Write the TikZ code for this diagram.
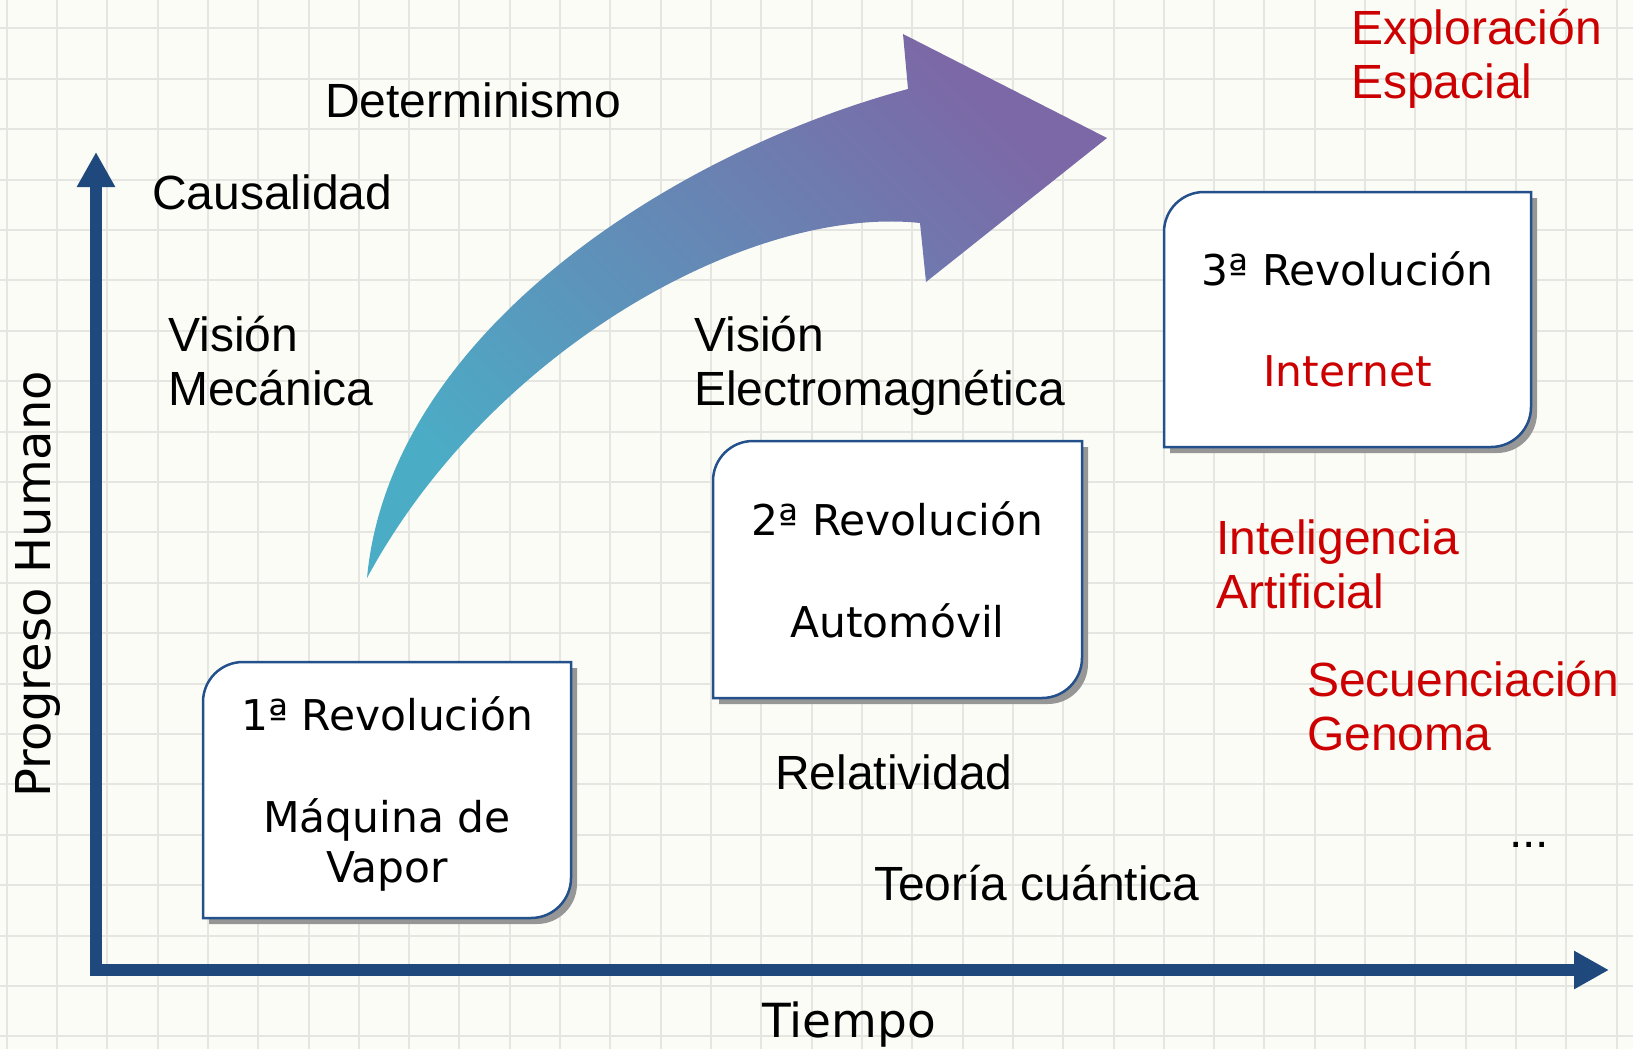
\documentclass[tikz,border=0pt]{standalone}
\usepackage{fontspec}
\newfontfamily\lib{Liberation Sans}
\newfontfamily\dvs{DejaVu Sans}
\usetikzlibrary{arrows.meta}
\definecolor{bgc}{RGB}{252,252,247}
\definecolor{gridc}{RGB}{229,229,225}
\definecolor{axisblue}{RGB}{31,73,125}
\definecolor{boxblue}{RGB}{36,80,140}
\definecolor{shadowc}{RGB}{150,150,150}
\definecolor{redtxt}{RGB}{204,0,0}
\definecolor{aqua}{RGB}{75,172,198}
\definecolor{purp}{RGB}{124,104,166}
\newcommand\boxpath[4]{({#1},{#2+40}) arc[start angle=180,end angle=90,radius=40pt] -- ({#3},{#2}) -- ({#3},{#4-40}) arc[start angle=0,end angle=-90,radius=40pt] -- ({#1},{#4}) -- cycle}
\begin{document}
\begin{tikzpicture}[x=1pt,y=-1pt,
  gridline/.style={draw=gridc,line width=2pt},
  axisline/.style={draw=axisblue,line width=12pt,-{Triangle[length=35pt,width=36pt]}},
  lbl/.style={font=\lib\fontsize{48}{54}\selectfont,anchor=base west,inner sep=0pt,align=left},
  redlbl/.style={lbl,text=redtxt},
  dvlbl/.style={font=\dvs\fontsize{47}{56}\selectfont,anchor=base west,inner sep=0pt},
  boxtxt/.style={font=\dvs\fontsize{42.4}{50}\selectfont,align=center,inner sep=0pt,anchor=base},
  boxshape/.style={draw=boxblue,line width=2.5pt,fill=white},
  shadowshape/.style={fill=shadowc},
]
\useasboundingbox (0,0) rectangle (1633,1049);
\fill[bgc] (0,0) rectangle (1633,1049);
% grid
\foreach \k in {0,...,32} \draw[gridline] ({6.7+\k*50.31},0) -- ({6.7+\k*50.31},1049);
\foreach \k in {0,...,20} \draw[gridline] (0,{28.3+\k*50.4}) -- (1633,{28.3+\k*50.4});
% axes
\coordinate (O) at (96,976);
\coordinate (Ox) at (90,970);
\coordinate (ytop) at (96,152);
\coordinate (xend) at (1609,970);
\draw[axisline] (O) -- (ytop);
\draw[axisline] (Ox) -- (xend);
% curved arrow
\shade[shading=axis,bottom color=aqua,top color=purp,shading angle=-45]
  (367,578) .. controls (390,330) and (680,150) .. (908,89) -- (903,34) -- (1107,138)
  -- (926,282) -- (920,223) .. controls (750,205) and (490,350) .. (367,578) -- cycle;
% boxes (multi-line nodes are anchored at the baseline of their last line)
\fill[shadowshape] \boxpath{209}{668}{577}{924};
\draw[boxshape] \boxpath{203}{662}{571}{918};
\node[boxtxt] (b1) at (387,882) {1ª Revolución\\[52pt]Máquina de\\Vapor};
\fill[shadowshape] \boxpath{719}{447}{1088}{704};
\draw[boxshape] \boxpath{713}{441}{1082}{698};
\node[boxtxt] (b2) at (897.5,637) {2ª Revolución\\[52pt]Automóvil};
\fill[shadowshape] \boxpath{1170}{198}{1537}{453};
\draw[boxshape] \boxpath{1164}{192}{1531}{447};
\node[boxtxt] (b3) at (1347.5,386) {3ª Revolución\\[51pt]\textcolor{redtxt}{Internet}};
% labels
\node[lbl] (det) at (325,117) {Determinismo};
\node[lbl] (cau) at (152,209) {Causalidad};
\node[lbl] (vm) at (168,405) {Visión\\Mecánica};
\node[lbl] (ve) at (694,405) {Visión\\Electromagnética};
\node[lbl] (rel) at (775,789) {Relatividad};
\node[lbl] (teo) at (874,900) {Teoría cuántica};
\node[redlbl] (exp) at (1351,98) {Exploración\\Espacial};
\node[redlbl] (ia) at (1216,608) {Inteligencia\\Artificial};
\node[redlbl] (sec) at (1307,750) {Secuenciación\\Genoma};
\node[lbl] (dots) at (1509,847) {...};
\node[dvlbl] (tiempo) at (762,1037) {Tiempo};
\node[dvlbl,font=\dvs\fontsize{48}{56}\selectfont,rotate=90] (prog) at (50,798) {Progreso Humano};
\end{tikzpicture}
\end{document}
